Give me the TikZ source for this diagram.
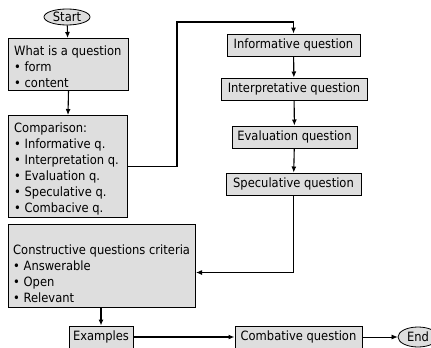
\documentclass[tikz,border=0pt]{standalone}
\usepackage{fontspec}
\setmainfont{DejaVu Sans Condensed}
\usetikzlibrary{shapes.geometric,arrows.meta}
\begin{document}
\begin{tikzpicture}[x=1pt,y=-1pt,
  every node/.style={font=\fontsize{12.8}{16}\selectfont},
  box/.style={draw=black,line width=1pt,fill=black!13,inner sep=0pt,minimum height=22pt},
  lbox/.style={box,anchor=north west},
  ltext/.style={anchor=west,align=left,inner sep=0pt},
  oval/.style={draw=black,line width=0.8pt,fill=black!13,ellipse,inner sep=0pt},
  conn/.style={line width=1.1pt,-{Latex[length=6pt,width=5pt]}}]
\clip (0,0) rectangle (431,348);
\useasboundingbox (0,0) rectangle (431,348);
\node[oval,minimum width=46pt,minimum height=16pt] (start) at (67,17) {Start};
\node[lbox,minimum width=120pt,minimum height=52pt] (q1) at (8,38) {};
\node[ltext] (q1t) at (14,66.5) {What is a question\\• form\\• content};
\node[lbox,minimum width=119pt,minimum height=102pt] (q2) at (8,115) {};
\node[ltext] (q2t) at (14,168.5)
  {Comparison:\\• Informative q.\\• Interpretation q.\\• Evaluation q.\\• Speculative q.\\• Combacive q.};
\node[box,minimum width=133pt] (inf) at (293.5,45) {Informative question};
\node[box,minimum width=146pt] (interp) at (294,89) {Interpretative question};
\node[box,minimum width=125pt] (eval) at (294.5,137) {Evaluation question};
\node[box,minimum width=135pt] (spec) at (293.5,184) {Speculative question};
\node[lbox,minimum width=187pt,minimum height=83pt] (crit) at (8,224) {};
\node[ltext] (critt) at (13,273.5)
  {Constructive questions criteria\\• Answerable\\• Open\\• Relevant};
\node[box,minimum width=64pt] (ex) at (101,337) {Examples};
\node[box,minimum width=127pt] (comb) at (298.5,337) {Combative question};
\node[oval,minimum width=40pt,minimum height=20pt] (end) at (418,337) {End};
\coordinate (k1) at (177,22);
\draw[conn] (start) -- (q1);
\draw[conn] (q1.south) -- (q2.north);
\draw[conn] (q2.east) -| (k1) -| (inf.north);
\draw[conn] (inf) -- (interp);
\draw[conn] (interp) -- (eval);
\draw[conn] (eval) -- (spec);
\draw[conn] (spec.south) |- ([yshift=-6.5pt]crit.east);
\draw[conn] (ex.north |- crit.south) -- (ex.north);
\draw[conn,line width=1.6pt] (ex) -- (comb);
\draw[conn,line width=0.7pt] (comb) -- (end);
\end{tikzpicture}
\end{document}
